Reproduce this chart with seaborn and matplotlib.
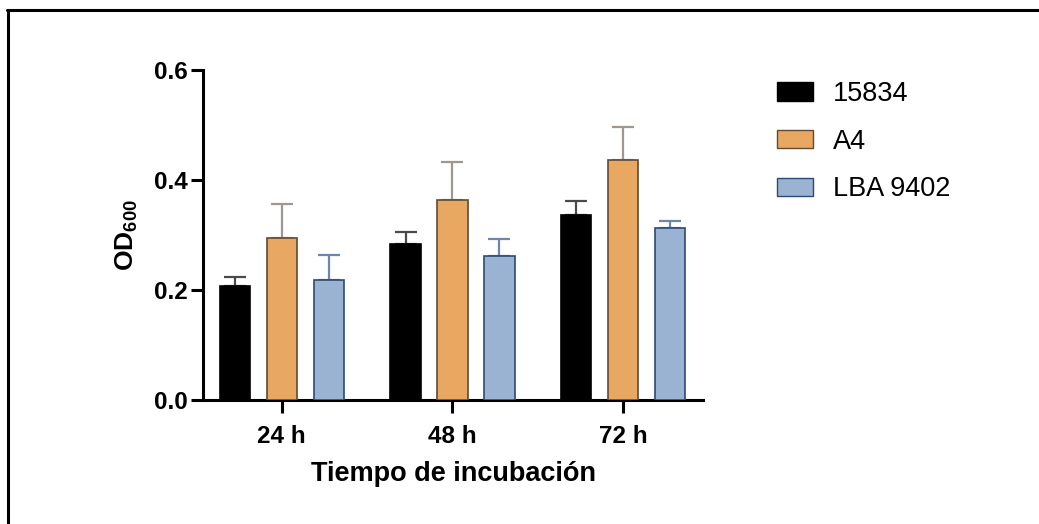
import matplotlib
matplotlib.use("Agg")
import matplotlib.pyplot as plt
from matplotlib.lines import Line2D
import seaborn as sns
import pandas as pd
import numpy as np

# values
tiempos = ["24 h", "48 h", "72 h"]
cepas = ["15834", "A4", "LBA 9402"]
od_15834 = [0.208, 0.284, 0.336]
od_a4 = [0.294, 0.363, 0.437]
od_lba = [0.219, 0.262, 0.312]
sd_15834 = [0.016, 0.021, 0.026]
sd_a4 = [0.062, 0.070, 0.059]
sd_lba = [0.044, 0.031, 0.014]

fill_colors = ["#000000", "#E8A862", "#9AB3D3"]
edge_colors = ["#000000", "#5E4A35", "#2D4A75"]
err_colors = ["#4A4A4A", "#A09890", "#6F86A8"]

sns.set_style("ticks")
plt.rcParams["font.family"] = ["Liberation Sans", "DejaVu Sans"]
plt.rcParams["mathtext.fontset"] = "custom"
plt.rcParams["mathtext.bf"] = "Liberation Sans:bold"
plt.rcParams["mathtext.rm"] = "Liberation Sans"
for k in ["text.color", "axes.labelcolor", "xtick.color", "ytick.color", "axes.edgecolor"]:
    plt.rcParams[k] = "black"

df = pd.DataFrame({
    "tiempo": tiempos * 3,
    "cepa": [c for c in cepas for _ in tiempos],
    "od": od_15834 + od_a4 + od_lba,
})
errs = [sd_15834, sd_a4, sd_lba]

fig = plt.figure(figsize=(10.39, 5.24), dpi=100)
ax = fig.add_axes([0.1954, 0.2366, 0.4812, 0.6298])

sns.barplot(data=df, x="tiempo", y="od", hue="cepa", order=tiempos,
            hue_order=cepas, palette=fill_colors, saturation=1, width=0.825,
            gap=0.36, errorbar=None, ax=ax, legend=True)

bar_groups = list(ax.containers)
for i, cont in enumerate(bar_groups):
    for bar in cont.patches:
        bar.set_edgecolor(edge_colors[i])
        bar.set_linewidth(1.2)
        bar.set_zorder(3)
    xs = [b.get_x() + b.get_width() / 2 for b in cont.patches]
    ys = [b.get_height() for b in cont.patches]
    ax.errorbar(xs, ys, yerr=[np.zeros(len(ys)), errs[i]], fmt="none",
                ecolor=err_colors[i], elinewidth=1.6, capsize=8,
                capthick=1.6, zorder=2)

ax.set_xlim(-0.46, 2.466)
ax.set_ylim(0, 0.6)
ax.set_yticks([0.0, 0.2, 0.4, 0.6])
ax.set_yticklabels(["0.0", "0.2", "0.4", "0.6"])
sns.despine(ax=ax)
for s in ["left", "bottom"]:
    ax.spines[s].set_linewidth(2.2)
ax.tick_params(axis="both", width=2.2, length=9, labelsize=17.5)
ax.tick_params(axis="y", pad=2)
ax.tick_params(axis="x", pad=9)
for lab in ax.get_xticklabels() + ax.get_yticklabels():
    lab.set_fontweight("bold")

ax.set_xlabel("Tiempo de incubación", fontsize=19.5, fontweight="bold", labelpad=9)
ax.set_ylabel(r"$\mathbf{OD}_{\mathbf{600}}$", fontsize=19, labelpad=10)

handles, labels = ax.get_legend_handles_labels()
for h, ec in zip(handles, edge_colors):
    h.set_edgecolor(ec)
ax.legend(handles, labels, loc="upper left", bbox_to_anchor=(777 / 1039, 1 - 81 / 524),
          bbox_transform=fig.transFigure, frameon=False, borderpad=0,
          borderaxespad=0, fontsize=19.5, handlelength=1.33, handleheight=0.66,
          handletextpad=0.75, labelspacing=0.8)

# frame lines on top and left of the picture
fig.add_artist(Line2D([7 / 1039, 1], [1 - 10 / 524, 1 - 10 / 524],
                      transform=fig.transFigure, color="black", lw=2.2))
fig.add_artist(Line2D([8 / 1039, 8 / 1039], [0, 1 - 10 / 524],
                      transform=fig.transFigure, color="black", lw=2.2))

fig.savefig("out.png", dpi=100, facecolor="white")
